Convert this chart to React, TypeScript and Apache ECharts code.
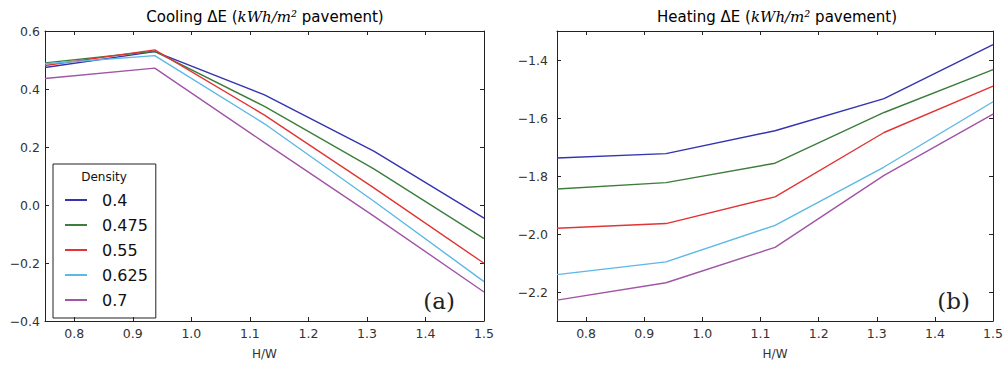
import React, { useEffect, useRef } from "react";
import * as echarts from "echarts";

const HW = [0.75, 0.9375, 1.125, 1.3125, 1.5];
const densities = ["0.4", "0.475", "0.55", "0.625", "0.7"];
const colors = ["#3434b0", "#3d7d3d", "#e23434", "#5cb8e4", "#a055a5"];

const cooling04 = [0.474, 0.529, 0.38, 0.185, -0.045];
const cooling0475 = [0.49, 0.53, 0.34, 0.124, -0.116];
const cooling055 = [0.481, 0.535, 0.31, 0.058, -0.201];
const cooling0625 = [0.487, 0.515, 0.28, 0.012, -0.264];
const cooling07 = [0.436, 0.472, 0.215, -0.039, -0.3];

const heating04 = [-1.738, -1.723, -1.644, -1.533, -1.347];
const heating0475 = [-1.845, -1.823, -1.756, -1.581, -1.433];
const heating055 = [-1.98, -1.964, -1.872, -1.65, -1.49];
const heating0625 = [-2.14, -2.096, -1.97, -1.769, -1.544];
const heating07 = [-2.228, -2.168, -2.046, -1.798, -1.587];

const xTicks = [0.8, 0.9, 1.0, 1.1, 1.2, 1.3, 1.4, 1.5];
const coolTicks = [-0.4, -0.2, 0.0, 0.2, 0.4, 0.6];
const heatTicks = [-2.2, -2.0, -1.8, -1.6, -1.4];

const coolingSets = [cooling04, cooling0475, cooling055, cooling0625, cooling07];
const heatingSets = [heating04, heating0475, heating055, heating0625, heating07];

const FONT = "DejaVu Sans";
const frame = { color: "#222", width: 1 };
const fmt = (v: number) => v.toFixed(1).replace("-", "\u2212");

function xAxes(gridIndex: number) {
  const base = {
    type: "value",
    gridIndex,
    min: 0.75,
    max: 1.5,
    splitLine: { show: false },
    axisLine: { show: true, onZero: false, lineStyle: frame },
    axisTick: { show: true, inside: true, length: 4, customValues: xTicks, lineStyle: frame },
  };
  return [
    {
      ...base,
      position: "bottom",
      axisLabel: { customValues: xTicks, formatter: fmt, fontSize: 12.5, color: "#333", margin: 6, fontFamily: FONT },
      name: "H/W",
      nameLocation: "middle",
      nameGap: 27,
      nameTextStyle: { fontSize: 12, color: "#333", fontFamily: FONT },
    },
    { ...base, position: "top", axisLabel: { show: false } },
  ];
}

function yAxes(gridIndex: number, min: number, max: number, ticks: number[]) {
  const base = {
    type: "value",
    gridIndex,
    min,
    max,
    splitLine: { show: false },
    axisLine: { show: true, onZero: false, lineStyle: frame },
    axisTick: { show: true, inside: true, length: 4, customValues: ticks, lineStyle: frame },
  };
  return [
    {
      ...base,
      position: "left",
      axisLabel: { customValues: ticks, formatter: fmt, fontSize: 12.5, color: "#333", margin: gridIndex === 0 ? 5 : 9, fontFamily: FONT },
    },
    { ...base, position: "right", axisLabel: { show: false } },
  ];
}

export default function App() {
  const ref = useRef<HTMLDivElement>(null);
  useEffect(() => {
    if (!ref.current) return;
    const chart = echarts.init(ref.current, undefined, { renderer: "svg" });
    const series: any[] = [];
    coolingSets.forEach((vals, i) => {
      series.push({
        type: "line",
        name: densities[i],
        xAxisIndex: 0,
        yAxisIndex: 0,
        data: HW.map((x, k) => [x, vals[k]]),
        showSymbol: false,
        symbol: "none",
        lineStyle: { color: colors[i], width: 1.4 },
        itemStyle: { color: colors[i] },
      });
    });
    heatingSets.forEach((vals, i) => {
      series.push({
        type: "line",
        name: densities[i],
        xAxisIndex: 2,
        yAxisIndex: 2,
        data: HW.map((x, k) => [x, vals[k]]),
        showSymbol: false,
        symbol: "none",
        lineStyle: { color: colors[i], width: 1.4 },
        itemStyle: { color: colors[i] },
      });
    });
    const titleRich = {
      a: { fontFamily: FONT, fontSize: 15, color: "#111" },
      i: { fontFamily: "DejaVu Serif", fontStyle: "italic", fontSize: 15, color: "#111" },
    };
    chart.setOption({
      animation: false,
      backgroundColor: "#fff",
      grid: [
        { left: 45, top: 31, width: 439, height: 292 },
        { left: 557, top: 31, width: 440, height: 291 },
      ],
      xAxis: [...xAxes(0), ...xAxes(1)],
      yAxis: [...yAxes(0, -0.4, 0.6, coolTicks), ...yAxes(1, -2.3, -1.3, heatTicks)],
      legend: {
        data: densities,
        orient: "vertical",
        left: 53,
        top: 164,
        padding: [26, 8, 8, 12],
        itemGap: 5,
        itemWidth: 22,
        itemHeight: 2,
        icon: "rect",
        borderColor: "#222",
        borderWidth: 1,
        textStyle: { fontSize: 16, color: "#111", fontFamily: FONT, lineHeight: 20, padding: [0, 0, 0, 10] },
      },
      graphic: [
        {
          type: "text",
          x: 265,
          y: 17,
          style: {
            text: "{a|Cooling \u0394E (}{i|kWh/m\u00b2}{a| pavement)}",
            rich: titleRich,
            align: "center",
            verticalAlign: "middle",
          },
        },
        {
          type: "text",
          x: 777,
          y: 17,
          style: {
            text: "{a|Heating \u0394E (}{i|kWh/m\u00b2}{a| pavement)}",
            rich: titleRich,
            align: "center",
            verticalAlign: "middle",
          },
        },
        {
          type: "text",
          x: 104,
          y: 177,
          style: { text: "Density", fontFamily: FONT, fontSize: 12, fill: "#111", align: "center", verticalAlign: "middle" },
        },
        {
          type: "text",
          x: 455,
          y: 301,
          style: { text: "(a)", fontFamily: "DejaVu Serif", fontSize: 23, fill: "#222", align: "right", verticalAlign: "middle" },
        },
        {
          type: "text",
          x: 970,
          y: 301,
          style: { text: "(b)", fontFamily: "DejaVu Serif", fontSize: 23, fill: "#222", align: "right", verticalAlign: "middle" },
        },
      ],
      series,
    });
    return () => chart.dispose();
  }, []);
  return <div ref={ref} style={{ position: "fixed", left: 0, top: 0, width: 1006, height: 365 }} />;
}
